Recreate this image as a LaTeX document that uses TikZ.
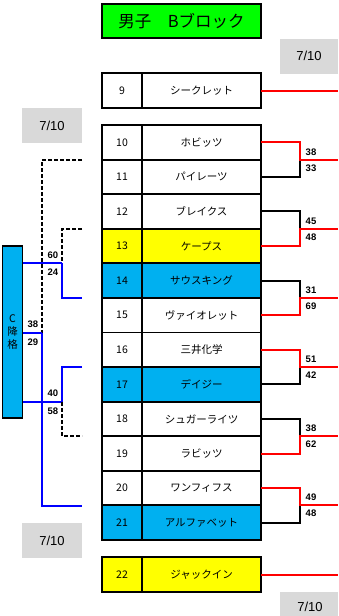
\documentclass[tikz,border=0pt]{standalone}
\usepackage{fontspec}
\setmainfont{Liberation Sans}
\newfontfamily\jp{Noto Sans CJK JP}
\definecolor{cyanfill}{HTML}{00B0F0}
\definecolor{yel}{HTML}{FFFF00}
\definecolor{grn}{HTML}{00FF00}
\definecolor{gry}{HTML}{D9D9D9}
\definecolor{bl}{HTML}{0000FF}
\definecolor{rd}{HTML}{FF0000}
\begin{document}
\begin{tikzpicture}[x=1pt,y=-1pt,
  cell/.style={draw, line width=1.9pt, inner sep=0pt, outer sep=0pt, minimum height=34.58pt},
  numcell/.style={cell, minimum width=40pt, font=\jp\fontsize{10.5}{12}\selectfont},
  namecell/.style={cell, minimum width=119pt, font=\jp\fontsize{10.5}{12}\selectfont},
  graybox/.style={fill=gry, inner sep=0pt, minimum width=60pt, minimum height=35pt, font=\fontsize{13}{15}\selectfont},
  score/.style={font=\bfseries\fontsize{9.5}{10}\selectfont, inner sep=0pt},
  win/.style={draw=rd, line width=2pt},
  lose/.style={draw=black, line width=2pt},
  dashln/.style={draw=black, line width=1.8pt, dash pattern=on 4pt off 2pt},
  blu/.style={draw=bl, line width=1.8pt}]
\useasboundingbox (0,0) rectangle (338,616);
% title
\node[draw, line width=1.9pt, fill=grn, minimum width=159pt, minimum height=34pt, inner sep=0pt,
  font=\jp\fontsize{16.5}{18}\selectfont] (title) at (181.5,21) {男子\hspace{1em}Bブロック};
% gray date boxes
\node[graybox, minimum width=58pt] (g1) at (309,56) {7/10};
\node[graybox] (g2) at (52,125.5) {7/10};
\node[graybox] (g3) at (52,540.5) {7/10};
\fill[gry] (280,592) rectangle (338,616);
\node[font=\fontsize{13}{15}\selectfont, inner sep=0pt] (g4) at (310,607) {7/10};
% box 9
\node[numcell, minimum height=35pt] (n9) at (122,90.5) {9};
\node[namecell, minimum height=35pt] (m9) at (201.5,90.5) {シークレット};
% rows 10-21
\foreach \n/\t/\c [count=\k from 0] in {10/ホビッツ/white, 11/パイレーツ/white, 12/ブレイクス/white, 13/ケープス/yel, 14/サウスキング/cyanfill, 15/ヴァイオレット/white, 16/三井化学/white, 17/デイジー/cyanfill, 18/シュガーライツ/white, 19/ラビッツ/white, 20/ワンフィフス/white, 21/アルファベット/cyanfill}{
  \pgfmathsetmacro\yy{125+34.583*\k+17.29}
  \node[numcell, fill=\c] (n\n) at (122,\yy) {\n};
  \node[namecell, fill=\c] (m\n) at (201.5,\yy) {\t};
}
% box 22
\node[numcell, minimum height=35pt, fill=yel] (n22) at (122,574.5) {22};
\node[namecell, minimum height=35pt, fill=yel] (m22) at (201.5,574.5) {ジャックイン};
% single lines on the right
\coordinate (e9) at (338,91);
\coordinate (e22) at (338,575);
\draw[win] (m9.east |- e9) -- (e9);
\draw[win] (m22.east |- e22) -- (e22);
% right brackets
\foreach \a/\b/\w/\s/\t/\mid in {10/11/1/38/33/160, 12/13/2/45/48/229, 14/15/2/31/69/298, 16/17/1/51/42/367, 18/19/2/38/62/436, 20/21/1/49/48/505}{
  \coordinate (j\a) at (300,\mid);
  \coordinate (e\a) at (338,\mid);
  \ifnum\w=1
    \draw[lose] (m\b.east) -| (j\a);
    \draw[win] (m\a.east) -| (j\a) -- (e\a);
  \else
    \draw[lose] (m\a.east) -| (j\a);
    \draw[win] (m\b.east) -| (j\a) -- (e\a);
  \fi
  \node[score] (sa\a) at (311,\mid-8) {\s};
  \node[score] (sb\a) at (311,\mid+8) {\t};
}
% left side
\node[draw, line width=1.8pt, fill=cyanfill, minimum width=20pt, minimum height=172pt, inner sep=0pt,
  align=center, font=\jp\fontsize{10.5}{13}\selectfont] (C) at (12.5,332) {C\\降\\格};
\coordinate (L1) at (82,160);
\coordinate (L2) at (82,229);
\coordinate (L3) at (82,298);
\coordinate (L4) at (82,367);
\coordinate (L5) at (82,436);
\coordinate (L6) at (82,506);
\coordinate (k1) at (42,333);
\coordinate (k2) at (62,263);
\coordinate (k3) at (62,402);
\draw[dashln] (L1) -| (k1);
\draw[blu] (k1) |- (L6);
\draw[blu] (C.east |- k1) -- (k1);
\draw[dashln] (L2) -| (k2);
\draw[blu] (k2) |- (L3);
\draw[blu] (C.east |- k2) -- (k2);
\draw[blu] (L4) -| (k3);
\draw[blu] (C.east |- k3) -- (k3);
\draw[dashln] (k3) |- (L5);
\node[score] (s60) at (53,255) {60};
\node[score] (s24) at (53,272) {24};
\node[score] (s38) at (33,324) {38};
\node[score] (s29) at (33,342) {29};
\node[score] (s40) at (53,393) {40};
\node[score] (s58) at (53,411) {58};
\end{tikzpicture}
\end{document}
